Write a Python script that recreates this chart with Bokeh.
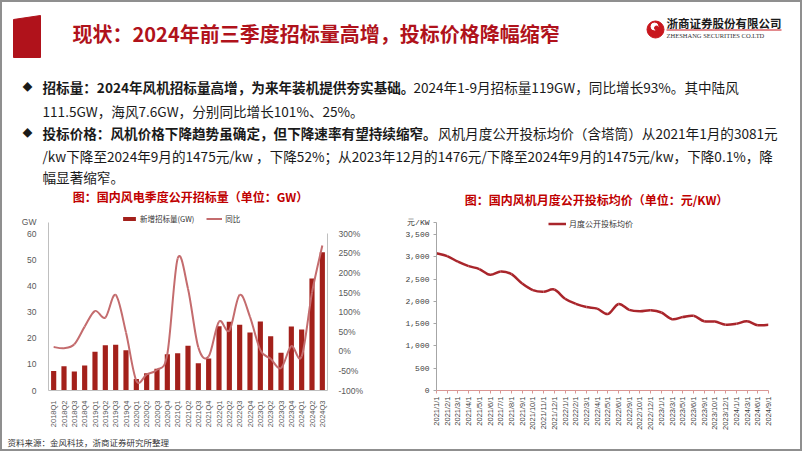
import math
from bokeh.plotting import figure
from bokeh.models import (Range1d, LinearAxis, FixedTicker, Label, Legend, LegendItem,
                          NumeralTickFormatter)
from bokeh.layouts import column, row
from bokeh.core.properties import value
from bokeh.embed import file_html
from bokeh.resources import INLINE

# ---------------- data ----------------
quarters = ["2018Q1", "2018Q2", "2018Q3", "2018Q4", "2019Q1", "2019Q2", "2019Q3", "2019Q4",
            "2020Q1", "2020Q2", "2020Q3", "2020Q4", "2021Q1", "2021Q2", "2021Q3", "2021Q4",
            "2022Q1", "2022Q2", "2022Q3", "2022Q4", "2023Q1", "2023Q2", "2023Q3", "2023Q4",
            "2024Q1", "2024Q2", "2024Q3"]
bid_gw = [7.5, 9.3, 7.3, 9.6, 14.8, 17.3, 17.5, 15.4, 4.4, 6.6, 8.3, 13.9, 14.3, 17.1,
          10.4, 12.3, 24.6, 26.3, 25.2, 22.2, 26.4, 20.8, 14.5, 24.5, 23.4, 42.9, 52.9]
yoy_pct = [11, 8, 18, 63, 103, 86, 144, 48, -75, -59, -47, -7, 237, 160, 10, -13,
           76, 53, 144, 88, 3, -19, -43, 13, -13, 150, 270]
gw_ticks = [0, 10, 20, 30, 40, 50, 60]
pct_ticks = [-100, -50, 0, 50, 100, 150, 200, 250, 300]

months = ["2021/1/1", "2021/2/1", "2021/3/1", "2021/4/1", "2021/5/1", "2021/6/1", "2021/7/1",
          "2021/8/1", "2021/9/1", "2021/10/1", "2021/11/1", "2021/12/1", "2022/1/1", "2022/2/1",
          "2022/3/1", "2022/4/1", "2022/5/1", "2022/6/1", "2022/9/1", "2022/10/1", "2022/12/1",
          "2023/1/1", "2023/3/1", "2023/5/1", "2023/6/1", "2023/9/1", "2023/10/1", "2023/12/1",
          "2024/1/1", "2024/3/1", "2024/6/1", "2024/9/1"]
price = [3081, 3015, 2890, 2790, 2725, 2595, 2668, 2610, 2400, 2252, 2215, 2265, 2058, 1945,
         1872, 1838, 1715, 1942, 1810, 1778, 1800, 1750, 1600, 1648, 1676, 1553, 1547, 1476,
         1498, 1553, 1465, 1475]
price_ticks = [0, 500, 1000, 1500, 2000, 2500, 3000, 3500]

CJK = "Noto Sans CJK SC"
SANS = "Liberation Sans"
DARK_RED = "#B0121B"
TITLE_RED = "#C00000"
BAR_RED = "#A3201B"
YOY_PINK = "#C46C6E"
PRICE_RED = "#A9252B"

HEAD_H = 187          # header strip height (px)
CHART_H = 245         # chart strip height (px)
FOOT_H = 451 - HEAD_H - CHART_H
TITLE_Y = 198.5       # row of the two chart titles


def bezier_ctrl(xs, ys):
    """cubic bezier segments (smoothed line, Excel-like) through the data points"""
    n = len(xs)
    out = dict(x0=[], y0=[], x1=[], y1=[], cx0=[], cy0=[], cx1=[], cy1=[])
    for i in range(n - 1):
        a = i - 1 if i > 0 else i
        d = i + 2 if i + 2 < n else i + 1
        out["x0"].append(xs[i]); out["y0"].append(ys[i])
        out["x1"].append(xs[i + 1]); out["y1"].append(ys[i + 1])
        out["cx0"].append(xs[i] + (xs[i + 1] - xs[a]) / 6)
        out["cy0"].append(ys[i] + (ys[i + 1] - ys[a]) / 6)
        out["cx1"].append(xs[i + 1] - (xs[d] - xs[i]) / 6)
        out["cy1"].append(ys[i + 1] - (ys[d] - ys[i]) / 6)
    return out


def text_w(s, size):
    return sum(size * (1.0 if ord(c) > 0x2E80 else 0.55) for c in s)


def blank(fig):
    fig.axis.visible = False
    fig.grid.visible = False


# ---------------- header figure ----------------
p0 = figure(width=802, height=HEAD_H, x_range=Range1d(0, 802), y_range=Range1d(HEAD_H, 0),
            min_border=0, toolbar_location=None, output_backend="svg",
            outline_line_color=None, background_fill_color="white", border_fill_color="white")
blank(p0)

p0.patch(x=[13, 40, 40, 13], y=[19, 15, 57, 57], color=DARK_RED)
p0.text(x=[72], y=[33], text=["现状：2024年前三季度招标量高增，投标价格降幅缩窄"],
        text_font=value(CJK), text_font_style="bold", text_font_size="20px",
        text_color=DARK_RED, text_baseline="middle", text_align="left")
# logo
p0.scatter(x=[655], y=[29], size=17, marker="circle", color="#C8161D")
p0.scatter(x=[654], y=[26], size=7, marker="circle", color="white")
p0.scatter(x=[656], y=[27.5], size=4, marker="circle", color="#C8161D")
p0.text(x=[666], y=[22], text=["浙商证券股份有限公司"], text_font=value(CJK),
        text_font_size="11.5px", text_color="#1a1a1a", text_baseline="middle",
        text_font_style="bold")
p0.segment(x0=[666], y0=[29.5], x1=[781], y1=[29.5], line_color="#C8161D", line_width=1)
p0.text(x=[666], y=[35], text=["ZHESHANG SECURITIES CO.LTD"], text_font=value("Liberation Serif"),
        text_font_size="6.5px", text_color="#333333", text_baseline="middle")

FS = 13.6
bold1 = "招标量：2024年风机招标量高增，为来年装机提供夯实基础。"
norm1 = "2024年1-9月招标量119GW，同比增长93%。其中陆风"
line2 = "111.5GW，海风7.6GW，分别同比增长101%、25%。"
bold3 = "投标价格：风机价格下降趋势虽确定，但下降速率有望持续缩窄。"
norm3 = "风机月度公开投标均价（含塔筒）从2021年1月的3081元"
line4 = "/kw下降至2024年9月的1475元/kw ，下降52%；从2023年12月的1476元/下降至2024年9月的1475元/kw，下降0.1%，降"
line5 = "幅显著缩窄。"
TX = 42
p0.text(x=[27, 27], y=[86, 132], text=["◆", "◆"], text_font=value(CJK), text_font_size="10px",
        text_color="#1a1a1a", text_baseline="middle", text_align="center")
p0.text(x=[TX, TX], y=[86, 132], text=[bold1, bold3], text_font=value(CJK),
        text_font_style="bold", text_font_size=f"{FS}px", text_color="#1a1a1a",
        text_baseline="middle")
p0.text(x=[TX + text_w(bold1, FS) + 1, TX, TX + text_w(bold3, FS) + 1, TX, TX],
        y=[86, 110, 132, 155, 176.5],
        text=[norm1, line2, norm3, line4, line5], text_font=value(CJK),
        text_font_size=f"{FS}px", text_color="#1a1a1a", text_baseline="middle")

# ---------------- left chart (frame spans y HEAD_H..393, axes bounded) ----------------
L_TOP, L_BOT = 234, 393             # pixel rows of the 60 GW and 0 GW levels
fr_h1 = L_BOT - HEAD_H
scale1 = fr_h1 / (L_BOT - L_TOP)
GW_UNIT = 64.5                      # where the "GW" unit caption sits on the axis
xq = list(range(len(quarters)))
p1 = figure(width=401, height=CHART_H, x_range=Range1d(-0.5, len(quarters) - 0.5),
            y_range=Range1d(0, 60 * scale1), min_border_left=48, min_border_right=74,
            min_border_top=0, min_border_bottom=HEAD_H + CHART_H - L_BOT,
            toolbar_location=None, output_backend="svg", outline_line_color=None,
            background_fill_color="white", border_fill_color="white")
p1.grid.visible = False
p1.extra_y_ranges = {"pct": Range1d(-100, -100 + 400 * scale1)}
bars = p1.vbar(x=xq, top=bid_gw, width=0.5, fill_color=BAR_RED, line_color=None)
bz = bezier_ctrl(xq, yoy_pct)
yoy_r = p1.bezier(line_color=YOY_PINK, line_width=2, y_range_name="pct", **bz)

for ax in [p1.xaxis[0], p1.yaxis[0]]:
    ax.axis_line_color = "#BFBFBF"
    ax.major_tick_line_color = None
    ax.minor_tick_line_color = None
    ax.major_label_text_font = SANS
    ax.major_label_text_color = "#595959"
p1.yaxis[0].ticker = FixedTicker(ticks=gw_ticks + [GW_UNIT])
p1.yaxis[0].major_label_overrides = {GW_UNIT: "GW"}
p1.yaxis[0].bounds = (0, GW_UNIT)
p1.yaxis[0].major_label_text_font_size = "8.5px"
p1.yaxis[0].major_label_standoff = 6
p1.xaxis[0].ticker = FixedTicker(ticks=xq)
p1.xaxis[0].major_label_overrides = {i: q for i, q in enumerate(quarters)}
p1.xaxis[0].major_label_orientation = math.pi / 2
p1.xaxis[0].major_label_text_font_size = "7.5px"
p1.xaxis[0].major_label_standoff = 4

rax = LinearAxis(y_range_name="pct", ticker=FixedTicker(ticks=pct_ticks), bounds=(-100, 300),
                 major_label_overrides={t: f"{t}%" for t in pct_ticks})
rax.axis_line_color = "#BFBFBF"
rax.major_tick_line_color = None
rax.minor_tick_line_color = None
rax.major_label_text_font = SANS
rax.major_label_text_color = "#595959"
rax.major_label_text_font_size = "8.5px"
rax.major_label_standoff = 5
p1.add_layout(rax, "right")

leg1 = Legend(items=[LegendItem(label="新增招标量(GW)", renderers=[bars]),
                     LegendItem(label="同比", renderers=[yoy_r])],
              orientation="horizontal", location=(73, 166), glyph_width=16, glyph_height=5,
              label_text_font=CJK, label_text_font_size="7.5px", label_text_color="#333333",
              label_standoff=3, spacing=12, padding=0, margin=0, border_line_color=None,
              background_fill_alpha=0, label_height=8)
p1.add_layout(leg1, "center")

p1.add_layout(Label(x=142, y=L_BOT - TITLE_Y, x_units="screen", y_units="screen",
                    text="图：国内风电季度公开招标量（单位：GW）", text_font=CJK,
                    text_font_style="bold", text_font_size="12px", text_color=TITLE_RED,
                    text_align="center", text_baseline="middle"))

# ---------------- right chart ----------------
R_TOP, R_BOT = 234, 390
fr_h2 = R_BOT - HEAD_H
scale2 = fr_h2 / (R_BOT - R_TOP)
PRICE_UNIT = 3770
xm = list(range(len(months)))
p2 = figure(width=401, height=CHART_H, x_range=Range1d(0, len(months) - 1),
            y_range=Range1d(0, 3500 * scale2), min_border_left=35, min_border_right=34,
            min_border_top=0, min_border_bottom=HEAD_H + CHART_H - R_BOT,
            toolbar_location=None, output_backend="svg", outline_line_color=None,
            background_fill_color="white", border_fill_color="white")
p2.grid.visible = False
bz2 = bezier_ctrl(xm, price)
price_r = p2.bezier(line_color=PRICE_RED, line_width=2.5, **bz2)

ya = p2.yaxis[0]
ya.ticker = FixedTicker(ticks=price_ticks + [PRICE_UNIT])
ya.bounds = (0, PRICE_UNIT)
ya.formatter = NumeralTickFormatter(format="0,0")
ya.major_label_overrides = {PRICE_UNIT: "元/KW"}
ya.axis_line_color = "#A6A6A6"
ya.major_tick_line_color = "#A6A6A6"
ya.major_tick_out = 3
ya.major_tick_in = 0
ya.minor_tick_line_color = None
ya.major_label_text_font = "Liberation Mono"
ya.major_label_text_font_size = "8px"
ya.major_label_text_color = "#404040"
ya.major_label_standoff = 4

xa = p2.xaxis[0]
xa.ticker = FixedTicker(ticks=xm)
xa.major_label_overrides = {i: m for i, m in enumerate(months)}
xa.major_label_orientation = math.pi / 2
xa.axis_line_color = "#D99694"
xa.major_tick_line_color = "#D99694"
xa.major_tick_out = 3
xa.major_tick_in = 0
xa.minor_tick_line_color = None
xa.major_label_text_font = SANS
xa.major_label_text_font_size = "7.5px"
xa.major_label_text_color = "#404040"
xa.major_label_standoff = 3

leg2 = Legend(items=[LegendItem(label="月度公开投标均价", renderers=[price_r])],
              orientation="horizontal", location=(112, 161), glyph_width=18, glyph_height=5,
              label_text_font=CJK, label_text_font_size="8px", label_text_color="#333333",
              label_standoff=3, padding=0, margin=0, border_line_color=None,
              background_fill_alpha=0, label_height=8)
p2.add_layout(leg2, "center")

p2.add_layout(Label(x=160, y=R_BOT - TITLE_Y, x_units="screen", y_units="screen",
                    text="图：国内风机月度公开投标均价（单位：元/KW）", text_font=CJK,
                    text_font_style="bold", text_font_size="12px", text_color=TITLE_RED,
                    text_align="center", text_baseline="middle"))

# ---------------- footer ----------------
pf = figure(width=802, height=FOOT_H, x_range=Range1d(0, 802), y_range=Range1d(FOOT_H, 0),
            min_border=0, toolbar_location=None, output_backend="svg",
            outline_line_color=None, background_fill_color="white", border_fill_color="white")
blank(pf)
pf.text(x=[7], y=[441 - HEAD_H - CHART_H], text=["资料来源：金风科技，浙商证券研究所整理"],
        text_font=value(CJK), text_font_size="8.5px", text_color="#333333",
        text_baseline="middle")

BORDER_CSS = (":host::after{content:'';position:fixed;left:0;top:0;width:802px;height:451px;"
              "box-sizing:border-box;border:2px solid #8f8f8f;pointer-events:none;z-index:1000;}")
layout = column(p0, row(p1, p2), pf, stylesheets=[BORDER_CSS])
open("out.html", "w").write(file_html(layout, INLINE))
